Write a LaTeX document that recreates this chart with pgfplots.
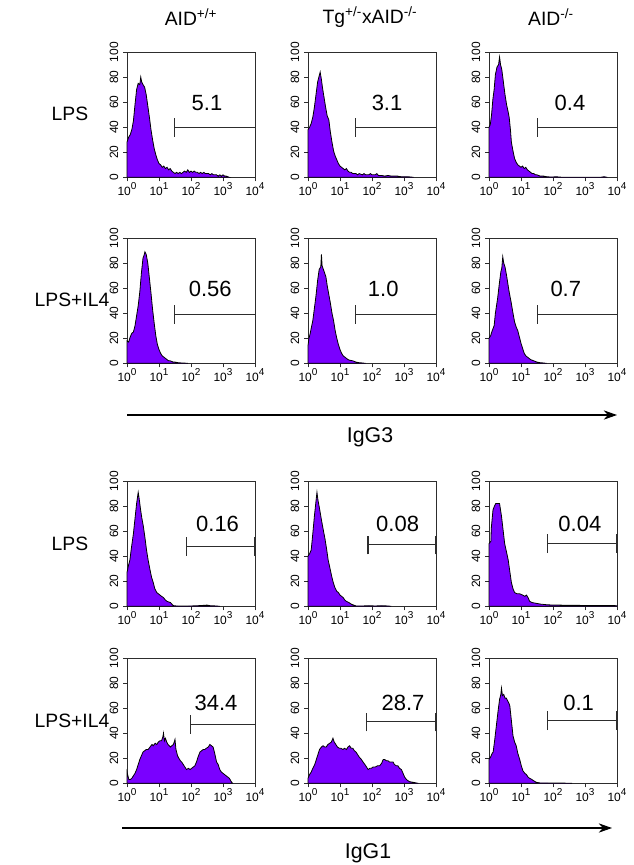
\documentclass[border=0pt]{standalone}
\usepackage{fontspec}
\setmainfont{Liberation Sans}
\usepackage{pgfplots}
\usepackage{pgfplotstable}
\pgfplotsset{compat=1.18}
\usetikzlibrary{arrows.meta}
\definecolor{histfill}{RGB}{122,0,255}
\definecolor{axcol}{RGB}{45,45,45}

\pgfplotstableread{
x y
0 28
0.05 32
0.1 34
0.15 38
0.2 45
0.25 58
0.3 70
0.35 75
0.4 74
0.43 80
0.46 76
0.5 74
0.55 72
0.6 66
0.65 57
0.7 48
0.75 38
0.8 30
0.85 23
0.9 18
0.95 14
1.0 11
1.05 10
1.1 8
1.15 9
1.2 7
1.25 8
1.3 6
1.35 7
1.4 5
1.45 4
1.5 3
1.55 4
1.6 3
1.65 4
1.7 3
1.75 4
1.8 5
1.85 4
1.9 6
1.95 4
2.0 5
2.05 4
2.1 5
2.15 4
2.2 4
2.25 3
2.3 4
2.35 3
2.4 4
2.45 3
2.5 3
2.55 3
2.6 2
2.65 3
2.7 2
2.75 2
2.8 2
2.85 1
2.9 2
2.95 1
3.0 2
3.05 1
3.1 1
3.15 0.5
3.2 0
}\dataA

\pgfplotstableread{
x y
0 38
0.05 40
0.1 43
0.15 48
0.2 56
0.25 66
0.3 76
0.35 81
0.38 84
0.42 78
0.45 72
0.5 64
0.55 56
0.6 49
0.65 46
0.7 36
0.75 28
0.8 21
0.85 17
0.9 14
0.95 11
1.0 9
1.05 8
1.1 7
1.15 6
1.2 7
1.25 5
1.3 4
1.35 4
1.4 3
1.5 3
1.55 2
1.6 3
1.7 2
1.75 3
1.8 2
1.9 2
1.95 3
2.0 2
2.1 2
2.15 3
2.2 1.5
2.3 1.5
2.4 1
2.5 1.5
2.6 1
2.7 1
2.8 1
2.9 0.5
3.0 0.5
3.1 0.5
3.2 0.3
3.3 0
}\dataB

\pgfplotstableread{
x y
0 40
0.04 42
0.08 50
0.12 62
0.16 70
0.2 82
0.25 88
0.3 90
0.33 96
0.36 90
0.4 86
0.45 76
0.5 66
0.55 58
0.6 52
0.63 48
0.67 38
0.7 28
0.75 21
0.8 15
0.85 12
0.9 10
0.95 9
1.0 8
1.05 9
1.1 7
1.15 8
1.2 6
1.25 5
1.3 4
1.35 3
1.4 3
1.45 2
1.5 2
1.55 1.5
1.6 1
1.7 1
1.8 0.5
1.9 0.3
2.0 0.3
2.1 0.5
2.2 0.2
2.3 0.1
2.5 0.1
2.8 0.1
3.5 0.1
3.6 0.5
3.7 0
}\dataC

\pgfplotstableread{
x y
0 18
0.05 17
0.1 21
0.15 24
0.2 25
0.25 30
0.3 38
0.35 46
0.4 57
0.45 72
0.5 84
0.53 86
0.56 89
0.6 87
0.65 80
0.7 68
0.75 56
0.8 43
0.85 32
0.9 22
0.95 15
1.0 11
1.05 8
1.1 6
1.15 5
1.2 4
1.25 3
1.3 2
1.35 2
1.4 1.5
1.45 1
1.5 1
1.6 0.5
1.7 0.3
1.8 0.2
1.9 0
}\dataD

\pgfplotstableread{
x y
0 14
0.03 20
0.07 24
0.1 28
0.15 34
0.2 44
0.25 54
0.3 66
0.35 75
0.4 77
0.42 87
0.44 78
0.48 75
0.52 72
0.56 69
0.6 62
0.65 55
0.7 48
0.75 40
0.8 34
0.85 26
0.9 20
0.95 15
1.0 11
1.05 8
1.1 6
1.15 5
1.2 4
1.25 3
1.3 2.5
1.4 2
1.5 1
1.6 0.5
1.7 0.3
1.8 0
}\dataE

\pgfplotstableread{
x y
0 20
0.05 22
0.1 26
0.16 30
0.2 40
0.27 52
0.32 63
0.37 73
0.4 76
0.43 85
0.46 80
0.5 77
0.55 70
0.58 65
0.63 57
0.69 49
0.75 40
0.8 33
0.85 29
0.9 26
0.95 21
1.0 16
1.05 12
1.1 8
1.15 6
1.2 5
1.25 4
1.3 3
1.4 2
1.5 1
1.6 0.5
1.7 0.3
1.8 0
}\dataF

\pgfplotstableread{
x y
0 27
0.04 32
0.09 37
0.14 47
0.2 58
0.25 70
0.3 82
0.35 91
0.38 86
0.42 78
0.46 71
0.51 64
0.56 55
0.61 45
0.66 37
0.72 29
0.77 23
0.82 19
0.87 14
0.93 11
0.98 10
1.03 9
1.08 8
1.14 7
1.2 5
1.25 4
1.3 3.5
1.36 3
1.41 1.5
1.46 0.5
1.55 0.3
1.7 0.2
2.0 0.3
2.2 0.5
2.4 0.8
2.5 1
2.6 0.5
2.8 0.3
2.9 0
}\dataG

\pgfplotstableread{
x y
0 40
0.05 42
0.1 45
0.15 58
0.2 72
0.25 84
0.28 91
0.31 85
0.36 78
0.42 69
0.47 62
0.53 54
0.58 46
0.63 37
0.69 30
0.74 24
0.79 19
0.84 15
0.9 12
0.95 11
1.0 9
1.05 8
1.1 7
1.15 5
1.2 4
1.28 3
1.36 1.6
1.43 1
1.5 0.3
1.7 0.3
1.9 0.5
2.1 0.3
2.3 0.5
2.5 0.3
2.6 0
}\dataH

\pgfplotstableread{
x y
0 50
0.06 52
0.07 62
0.125 77
0.17 80
0.21 82
0.27 82
0.33 82
0.36 77
0.39 72
0.44 61
0.49 50
0.55 43
0.6 37
0.65 28
0.7 19
0.75 14
0.8 11
0.88 10
0.96 10
1.05 9
1.12 8
1.17 9
1.22 7
1.27 4
1.35 3
1.48 2.4
1.6 1.8
1.8 1.3
2.0 1
2.2 1
2.5 0.8
2.8 0.8
3.0 0.6
3.3 0.6
3.6 0.6
3.9 0.6
4.0 0.5
}\dataI

\pgfplotstableread{
x y
0 9
0.03 6
0.06 3
0.1 3
0.15 4
0.2 6
0.25 8
0.3 11
0.35 15
0.4 19
0.45 22
0.5 25
0.55 26
0.6 27
0.66 27
0.72 29
0.78 31
0.82 30
0.88 32
0.93 31
0.98 33
1.03 34
1.08 34
1.12 37
1.14 40
1.17 34
1.2 36
1.24 33
1.28 31
1.32 30
1.36 29
1.4 30
1.45 31
1.5 35
1.53 27
1.58 22
1.62 20
1.67 18
1.71 17
1.76 15
1.81 13
1.86 11
1.92 12
1.97 11
2.02 12
2.07 13
2.12 14
2.17 17
2.22 21
2.28 25
2.33 26
2.38 27
2.43 27
2.48 28
2.54 29
2.59 31
2.64 30
2.69 29
2.74 24
2.8 17
2.85 15
2.9 11
2.95 9
3.0 8
3.05 7
3.1 6
3.15 5
3.2 4
3.26 1.3
3.3 0
}\dataJ

\pgfplotstableread{
x y
0 4
0.05 7
0.1 9
0.15 12
0.21 15
0.26 19
0.31 23
0.36 27
0.42 29
0.47 30
0.52 29
0.57 29
0.62 31
0.68 32
0.73 33
0.78 36
0.82 33
0.87 31
0.92 29
0.98 28
1.03 28
1.09 27
1.14 28
1.2 27
1.25 29
1.3 30
1.35 28
1.4 28
1.45 26
1.5 25
1.55 23
1.6 21
1.67 19
1.72 17
1.78 15
1.83 13
1.88 11
1.93 12
1.98 12
2.03 13
2.1 13
2.17 14
2.24 14
2.3 16
2.35 19
2.4 19
2.45 18
2.5 18
2.55 17
2.6 17
2.66 17
2.7 15
2.76 14
2.81 14
2.86 12
2.92 11
2.97 8
3.02 5
3.08 3
3.13 2
3.18 1.3
3.25 1
3.39 0.3
3.45 0
}\dataK

\pgfplotstableread{
x y
0 19
0.05 21
0.1 24
0.13 25
0.18 35
0.23 46
0.28 57
0.33 67
0.37 71
0.39 76
0.42 70
0.46 71
0.5 68
0.54 68
0.58 66
0.62 64
0.65 62
0.7 50
0.75 38
0.8 33
0.85 30
0.9 24
0.96 19
1.01 14
1.06 10
1.12 8
1.17 7
1.22 5
1.27 4
1.32 3.4
1.4 2
1.48 0.8
1.6 0.3
1.8 0.3
2.0 0.2
2.3 0.2
2.5 0.1
2.6 0
}\dataL

\newcommand{\tickfont}{\fontsize{9}{10}\selectfont}
\newcommand{\xtl}[1]{10\raisebox{0.45em}{\fontsize{7.5}{8}\selectfont #1}}

\pgfplotsset{
  facs/.style={
    scale only axis, width=96pt, height=94pt,
    xmin=0, xmax=4, ymin=0, ymax=100,
    xtick={0,1,2,3,4},
    xticklabels={\xtl{0},\xtl{1},\xtl{2},\xtl{3},\xtl{4}},
    ytick={0,20,40,60,80,100},
    every tick label/.append style={font=\tickfont},
    yticklabel style={rotate=90, anchor=south},
    xticklabel style={inner sep=1pt},
    tick align=outside, xtick pos=left, ytick pos=left,
    major tick length=3pt,
    /pgf/number format/assume math mode=true,
    axis line style={axcol, line width=0.7pt},
    every tick/.style={axcol, line width=0.7pt},
    clip=false,
    anchor=north west,
  },
  hist/.style={fill=histfill, draw=black, line width=0.6pt},
}
\tikzset{gate/.style={axcol, line width=0.8pt}}

% #1 x px, #2 y px, #3 data, #4 gate x, #5 gate y, #6 label, #7 label x, #8 label y, #9 extra
\newcommand{\panel}[9]{%
\begin{axis}[facs, at={(#1*0.75pt,-#2*0.75pt)}]
\addplot[hist] table {#3} \closedcycle;
\draw[gate] (axis cs:#4,#5) -- (axis cs:4,#5);
\draw[gate] (axis cs:#4,#5) ++(0,-7pt) -- ++(0,14pt);
#9
\node[font=\fontsize{16.5}{18}\selectfont] at (axis cs:#7,#8) {#6};
\end{axis}}

\newcommand{\rtick}[1]{\draw[gate] (axis cs:4,#1) ++(0,-7pt) -- ++(0,14pt);}

\begin{document}
\begin{tikzpicture}
\path[use as bounding box] (0,0) rectangle (474.75pt,-648.75pt);

% Row 1: LPS, IgG3
\panel{127}{52}{\dataA}{1.49}{40}{5.1}{2.5}{59}{}
\panel{308}{52}{\dataB}{1.47}{40}{3.1}{2.47}{59}{}
\panel{489}{52}{\dataC}{1.52}{40}{0.4}{2.53}{59}{}
% Row 2: LPS+IL4, IgG3
\panel{127}{238}{\dataD}{1.47}{39}{0.56}{2.6}{59}{}
\panel{308}{238}{\dataE}{1.47}{39}{1.0}{2.35}{59}{}
\panel{489}{238}{\dataF}{1.52}{39}{0.7}{2.4}{59}{}
% Row 3: LPS, IgG1
\panel{127}{481}{\dataG}{1.87}{48}{0.16}{2.83}{66}{\rtick{48}}
\panel{308}{481}{\dataH}{1.875}{49}{0.08}{2.8}{66}{\rtick{49}}
\panel{489}{481}{\dataI}{1.84}{50}{0.04}{2.84}{66}{\rtick{50}}
% Row 4: LPS+IL4, IgG1
\panel{127}{658}{\dataJ}{1.97}{47}{34.4}{2.78}{64}{}
\panel{308}{658}{\dataK}{1.84}{49}{28.7}{2.97}{64}{\rtick{49}}
\panel{489}{658}{\dataL}{1.84}{50}{0.1}{2.8}{64}{\rtick{50}}

% column titles and row labels
\begin{scope}[every node/.style={font=\fontsize{14.5}{16}\selectfont}]
\node at (191*0.75pt,-17*0.75pt) {AID\textsuperscript{+/+}};
\node at (370*0.75pt,-17*0.75pt) {Tg\textsuperscript{+/-}xAID\textsuperscript{-/-}};
\node at (551*0.75pt,-17*0.75pt) {AID\textsuperscript{-/-}};
\node at (70*0.75pt,-114*0.75pt) {LPS};
\node at (72*0.75pt,-300*0.75pt) {LPS+IL4};
\node at (70*0.75pt,-544*0.75pt) {LPS};
\node at (72*0.75pt,-721*0.75pt) {LPS+IL4};
\end{scope}

% axis arrows
\draw[line width=0.8pt, -{Stealth[length=10pt, width=7pt]}] (127*0.75pt,-415*0.75pt) -- (617*0.75pt,-415*0.75pt);
\node[font=\fontsize{16}{18}\selectfont] at (370*0.75pt,-437*0.75pt) {IgG3};
\draw[line width=0.8pt, -{Stealth[length=10pt, width=7pt]}] (122*0.75pt,-828*0.75pt) -- (612*0.75pt,-828*0.75pt);
\node[font=\fontsize{16}{18}\selectfont] at (368*0.75pt,-853*0.75pt) {IgG1};
\end{tikzpicture}
\end{document}
